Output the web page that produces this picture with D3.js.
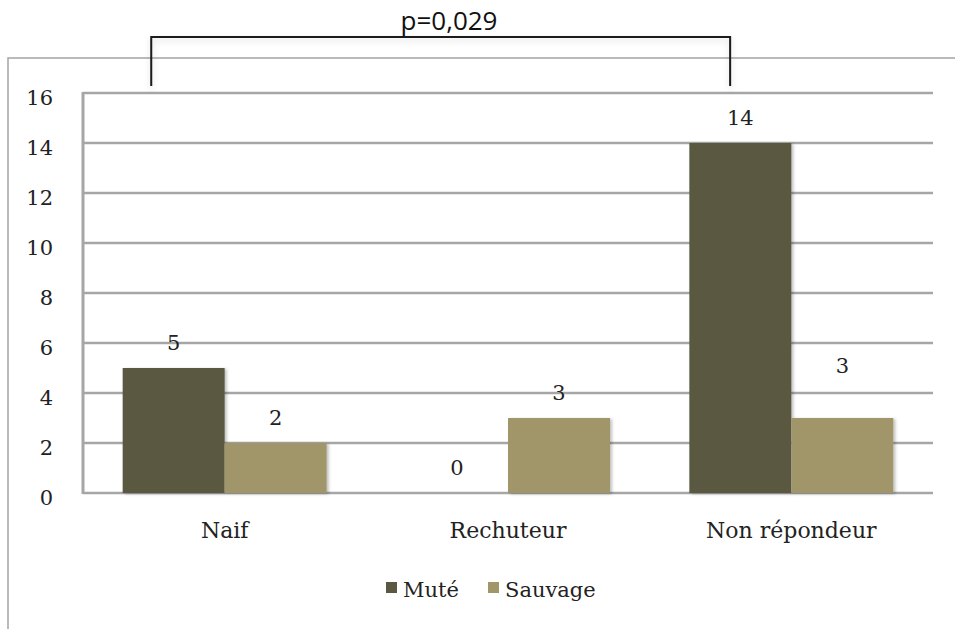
<!DOCTYPE html>
<html>
<head>
<meta charset="utf-8">
<script src="https://cdn.jsdelivr.net/npm/d3@7"></script>
<style>
  html, body { margin: 0; padding: 0; background: #fff; }
  svg { display: block; }
</style>
</head>
<body>
<svg id="chart" width="955" height="629"></svg>
<script>
// ---- data ----
const categories = ["Naif", "Rechuteur", "Non répondeur"];
const seriesNames = ["Muté", "Sauvage"];
const muteValues = [5, 0, 14];
const sauvageValues = [2, 3, 3];
const yTicks = [0, 2, 4, 6, 8, 10, 12, 14, 16];
const pLabel = "p=0,029";
const bracketFrom = "Naif";
const bracketTo = "Non répondeur";

// ---- styles / layout ----
const colors = { "Muté": "#5a5841", "Sauvage": "#a0966a" };
const serif = "'DejaVu Serif', 'Liberation Serif', serif";
const sans = "'Open Sans', 'Noto Sans', sans-serif";
const margin = { left: 83, right: 22, top: 93, bottom: 136 };
const W = 955, H = 629;

const svg = d3.select("#chart");
const defs = svg.append("defs");
const sh = defs.append("filter").attr("id", "shadow").attr("x", "-10%").attr("y", "-10%").attr("width", "130%").attr("height", "130%");
sh.append("feDropShadow").attr("dx", 2).attr("dy", 1).attr("stdDeviation", 1.5).attr("flood-color", "#000").attr("flood-opacity", 0.25);
const glow = defs.append("filter").attr("id", "glow").attr("x", "-20%").attr("y", "-50%").attr("width", "140%").attr("height", "200%");
glow.append("feDropShadow").attr("dx", 0).attr("dy", 3).attr("stdDeviation", 3).attr("flood-color", "#000").attr("flood-opacity", 0.15);

// outer frame (extends beyond canvas)
svg.append("path")
  .attr("d", `M8,${H + 5} L8,58 L${W + 5},58`)
  .attr("fill", "none").attr("stroke", "#a4a4a4").attr("stroke-width", 1.5);

const x0 = d3.scaleBand().domain(categories).range([margin.left, W - margin.right]).paddingInner(0.28).paddingOuter(0.14);
const x1 = d3.scaleBand().domain(seriesNames).range([0, x0.bandwidth()]);
const y = d3.scaleLinear().domain([0, 16]).range([H - margin.bottom, margin.top]);

// gridlines
svg.append("g").selectAll("line").data(yTicks).join("line")
  .attr("x1", margin.left).attr("x2", W - margin.right)
  .attr("y1", d => y(d)).attr("y2", d => y(d))
  .attr("stroke", "#a6a6a6").attr("stroke-width", 2.5);

// y axis line
svg.append("line")
  .attr("x1", margin.left).attr("x2", margin.left)
  .attr("y1", y(16) - 1).attr("y2", y(0) + 1)
  .attr("stroke", "#a6a6a6").attr("stroke-width", 3);

// y tick labels via axis
const yAxis = d3.axisLeft(y).tickValues(yTicks).tickSize(0).tickPadding(0).tickFormat(d3.format("d"));
const yg = svg.append("g").attr("transform", `translate(${margin.left - 30},0)`).call(yAxis);
yg.select(".domain").remove();
yg.selectAll("text").attr("font-family", serif).attr("font-size", 21).attr("fill", "#222").attr("dy", "0.55em");

// bars
const rows = categories.map((c, i) => ({ cat: c, vals: [
  { s: "Muté", v: muteValues[i] }, { s: "Sauvage", v: sauvageValues[i] }
]}));
const groups = svg.append("g").selectAll("g").data(rows).join("g")
  .attr("transform", d => `translate(${x0(d.cat)},0)`);
groups.selectAll("rect").data(d => d.vals.filter(e => e.v > 0)).join("rect")
  .attr("x", d => x1(d.s)).attr("width", x1.bandwidth())
  .attr("y", d => y(d.v)).attr("height", d => y(0) - y(d.v))
  .attr("fill", d => colors[d.s]).attr("filter", "url(#shadow)");

// value labels
const extraLift = { "Non répondeur|Sauvage": 27 };
groups.selectAll("text").data(d => d.vals.map(e => ({ ...e, cat: d.cat }))).join("text")
  .attr("x", d => x1(d.s) + x1.bandwidth() / 2)
  .attr("y", d => y(d.v) - 18 - (extraLift[d.cat + "|" + d.s] || 0))
  .attr("text-anchor", "middle")
  .attr("font-family", serif).attr("font-size", 21).attr("fill", "#222")
  .text(d => d.v);

// x axis category labels
const xAxis = d3.axisBottom(x0).tickSize(0).tickPadding(0);
const xg = svg.append("g").attr("transform", `translate(0,${y(0)})`).call(xAxis);
xg.select(".domain").remove();
xg.selectAll("text").attr("font-family", serif).attr("font-size", 22).attr("fill", "#222").attr("y", 45).attr("dy", 0);

// legend
const legendItems = [{ s: "Muté", x: 386, tx: 403 }, { s: "Sauvage", x: 488, tx: 505 }];
const lg = svg.append("g");
legendItems.forEach(it => {
  lg.append("rect").attr("x", it.x).attr("y", 582).attr("width", 11).attr("height", 11).attr("fill", colors[it.s]);
  lg.append("text").attr("x", it.tx).attr("y", 597)
    .attr("font-family", serif).attr("font-size", 21).attr("fill", "#222").text(it.s);
});

// significance bracket
const bx1 = x0(bracketFrom) + x0.bandwidth() * 0.14;
const bx2 = x0(bracketTo) + x0.bandwidth() * 0.2;
svg.append("path")
  .attr("d", `M${bx1},86 L${bx1},37 L${bx2},37 L${bx2},86`)
  .attr("fill", "none").attr("stroke", "#1a1a1a").attr("stroke-width", 2)
  .attr("filter", "url(#glow)");
svg.append("text").attr("x", 449).attr("y", 30).attr("text-anchor", "middle")
  .attr("font-family", sans).attr("font-size", 26).attr("fill", "#111").text(pLabel);
</script>
</body>
</html>
